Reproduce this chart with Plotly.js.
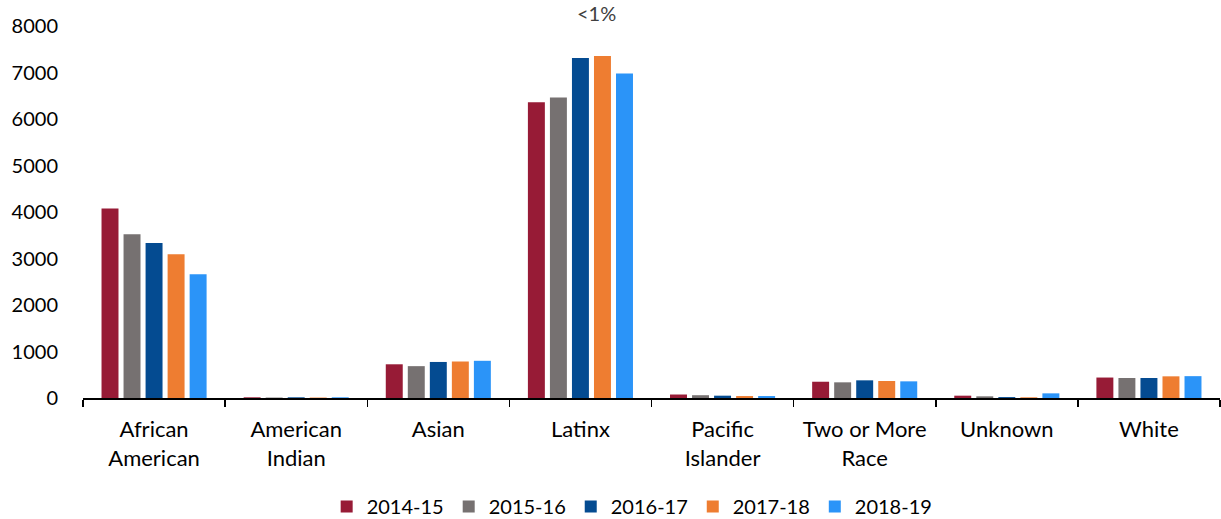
<!DOCTYPE html>
<html>
<head>
<meta charset="utf-8">
<script src="https://cdn.plot.ly/plotly-3.0.1.min.js"></script>
<style>html,body{margin:0;padding:0;background:#fff;overflow:hidden;}#chart{width:1221px;height:526px;}</style>
</head>
<body>
<div id="chart"></div>
<script>
const categories = ["African<br>American", "American<br>Indian", "Asian", "Latinx", "Pacific<br>Islander", "Two or More<br>Race", "Unknown", "White"];
const seriesNames = ["2014-15", "2015-16", "2016-17", "2017-18", "2018-19"];
const v2014 = [4075, 15, 725, 6360, 75, 350, 50, 440];
const v2015 = [3520, 10, 685, 6460, 60, 337, 36, 430];
const v2016 = [3335, 15, 775, 7310, 50, 380, 20, 430];
const v2017 = [3090, 10, 785, 7355, 42, 366, 15, 466];
const v2018 = [2660, 15, 800, 6980, 42, 358, 100, 470];
const colors = ["#971B36", "#767171", "#044B91", "#EE7D31", "#2B94F8"];
const annotationText = "<1%";

const allValues = [v2014, v2015, v2016, v2017, v2018];
const traces = seriesNames.map((name, i) => ({
  type: "bar",
  name: name,
  x: categories,
  y: allValues[i],
  marker: {color: colors[i], line: {width: 0}},
  hoverinfo: "x+y+name"
}));

const fam = "Lato, 'Open Sans', sans-serif";
const font = {family: fam, size: 20, color: "#000"};

const layout = {
  width: 1221,
  height: 526,
  margin: {l: 83, r: 1, t: 26, b: 128, pad: 0},
  paper_bgcolor: "#fff",
  plot_bgcolor: "#fff",
  font: font,
  barmode: "group",
  bargap: 0.225,
  bargroupgap: 0.23,
  showlegend: true,
  legend: {
    orientation: "h",
    x: 0.483,
    xanchor: "center",
    yref: "container",
    y: 0,
    yanchor: "bottom",
    font: font,
    itemwidth: 30,
    traceorder: "normal"
  },
  xaxis: {
    type: "category",
    showline: true,
    linecolor: "#000",
    linewidth: 1.5,
    ticks: "outside",
    tickson: "boundaries",
    ticklen: 7,
    tickwidth: 1.5,
    tickcolor: "#000",
    showgrid: false,
    zeroline: false,
    tickfont: {family: fam, size: 22, color: "#000"},
    ticklabelstandoff: 11,
    automargin: false
  },
  yaxis: {
    range: [0, 8000],
    dtick: 1000,
    showline: false,
    showgrid: false,
    zeroline: false,
    ticks: "",
    tickfont: font,
    ticklabelstandoff: 24,
    automargin: false
  },
  annotations: [{
    text: annotationText,
    xref: "paper",
    yref: "paper",
    x: 0.452,
    y: 1.0699,
    xanchor: "center",
    yanchor: "top",
    yshift: 1,
    showarrow: false,
    font: {family: fam, size: 20, color: "#404040"}
  }]
};

Plotly.newPlot("chart", traces, layout, {displayModeBar: false, staticPlot: true});
</script>
</body>
</html>
